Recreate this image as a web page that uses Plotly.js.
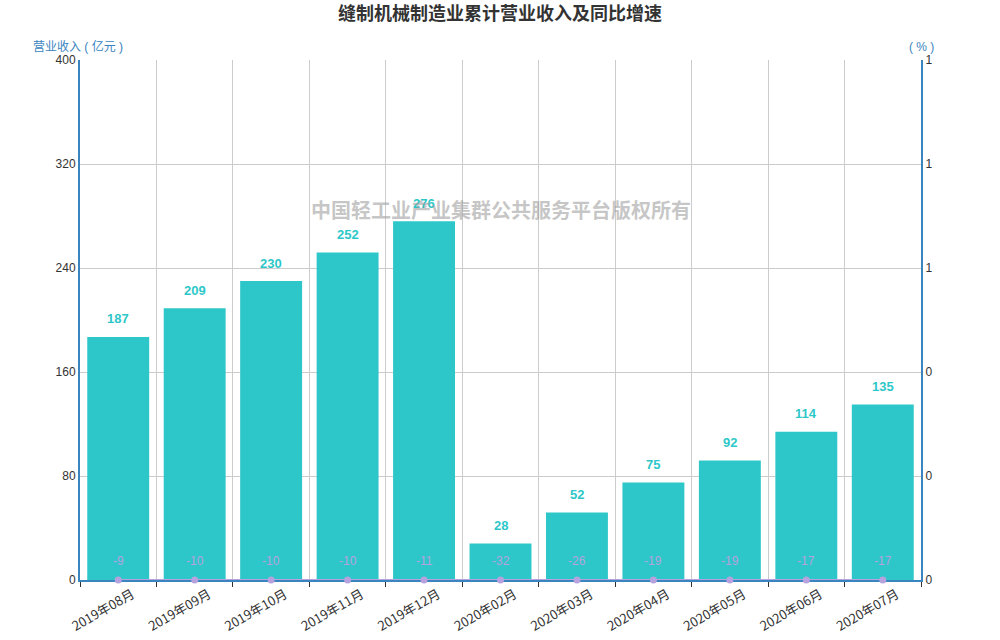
<!DOCTYPE html>
<html>
<head>
<meta charset="utf-8">
<script src="https://cdn.plot.ly/plotly-3.0.1.min.js"></script>
<style>
  html, body { margin: 0; padding: 0; background: #fff; }
  #chart { width: 1000px; height: 640px; }
</style>
</head>
<body>
<div id="chart"></div>
<script>
// months, revenue (亿元) and yoy growth (%)
var months = ['2019年08月', '2019年09月', '2019年10月', '2019年11月', '2019年12月',
  '2020年02月', '2020年03月', '2020年04月', '2020年05月', '2020年06月', '2020年07月'];
var revenue = [187, 209, 230, 252, 276, 28, 52, 75, 92, 114, 135];
var growth = [-9, -10, -10, -10, -11, -32, -26, -19, -19, -17, -17];

var FONT = 'Liberation Sans, Noto Sans CJK SC, sans-serif';
var BAR = '#2ec7c9';
var LINE = '#b6a2de';
var AXIS = '#3a84c0';
var y2min = 0; // right axis starts at 0, values below sit on the axis

var bars = {
  type: 'bar',
  x: months,
  y: revenue,
  marker: { color: BAR },
  hoverinfo: 'x+y'
};

var line = {
  type: 'scatter',
  mode: 'lines+markers',
  x: months,
  y: growth.map(function (v) { return Math.max(v, y2min); }),
  yaxis: 'y2',
  line: { color: LINE, width: 2 },
  marker: { color: LINE, size: 7 },
  cliponaxis: false,
  hoverinfo: 'skip'
};

var notes = [];
for (var i = 0; i < months.length; i++) {
  // bar value
  notes.push({
    x: months[i], y: revenue[i], xref: 'x', yref: 'y',
    text: '<b>' + revenue[i] + '</b>', showarrow: false,
    yanchor: 'middle', yshift: 18,
    font: { family: FONT, size: 13, color: BAR }
  });
  // growth value
  notes.push({
    x: months[i], y: Math.max(growth[i], y2min), xref: 'x', yref: 'y2',
    text: String(growth[i]), showarrow: false,
    yanchor: 'middle', yshift: 19,
    font: { family: FONT, size: 12, color: LINE }
  });
}
// axis names
notes.push({
  xref: 'paper', yref: 'paper', x: 0, y: 1, xanchor: 'center', yanchor: 'bottom',
  xshift: -2, yshift: 4, text: '营业收入 ( 亿元 )', showarrow: false,
  font: { family: FONT, size: 12, color: AXIS }
});
notes.push({
  xref: 'paper', yref: 'paper', x: 1, y: 1, xanchor: 'center', yanchor: 'bottom',
  yshift: 4, text: '( % )', showarrow: false,
  font: { family: FONT, size: 12, color: AXIS }
});
// watermark
notes.push({
  xref: 'paper', yref: 'paper', x: 0.5, y: 1, xanchor: 'center', yanchor: 'middle',
  yshift: -149, text: '<b>中国轻工业产业集群公共服务平台版权所有</b>', showarrow: false,
  font: { family: 'Noto Sans CJK SC, sans-serif', size: 20, color: 'rgba(160,160,160,0.6)' }
});

var layout = {
  width: 1000,
  height: 640,
  margin: { l: 80, r: 79, t: 60, b: 60 },
  paper_bgcolor: '#fff',
  plot_bgcolor: '#fff',
  showlegend: false,
  bargap: 0.19,
  font: { family: FONT, size: 12, color: '#333' },
  title: {
    text: '<b>缝制机械制造业累计营业收入及同比增速</b>',
    x: 0.5, xanchor: 'center', y: 0.978, yanchor: 'middle',
    font: { family: 'Noto Sans CJK SC, sans-serif', size: 18, color: '#333' }
  },
  xaxis: {
    type: 'category',
    range: [-0.5, months.length - 0.5],
    tickson: 'boundaries',
    ticks: 'outside', ticklen: 5, tickcolor: '#333',
    tickangle: -30,
    ticklabelshift: 14,
    tickfont: { family: 'Noto Sans CJK SC, sans-serif', size: 13, color: '#333' },
    showgrid: true, gridcolor: '#cccccc', gridwidth: 1,
    showline: true, linecolor: AXIS, linewidth: 2,
    zeroline: false,
    layer: 'below traces'
  },
  yaxis: {
    range: [0, 400], dtick: 80, tick0: 0,
    showgrid: true, gridcolor: '#cccccc',
    showline: true, linecolor: AXIS, linewidth: 2,
    zeroline: false, ticks: '',
    tickfont: { size: 12, color: '#333' },
    layer: 'below traces'
  },
  yaxis2: {
    overlaying: 'y', side: 'right',
    range: [y2min, 1], dtick: 0.2, tick0: 0, tickformat: '.0f',
    showgrid: false,
    showline: true, linecolor: AXIS, linewidth: 2,
    zeroline: false, ticks: '',
    tickfont: { size: 12, color: '#333' },
    layer: 'below traces'
  },
  annotations: notes
};

Plotly.newPlot('chart', [bars, line], layout, { displayModeBar: false, staticPlot: true });
</script>
</body>
</html>
